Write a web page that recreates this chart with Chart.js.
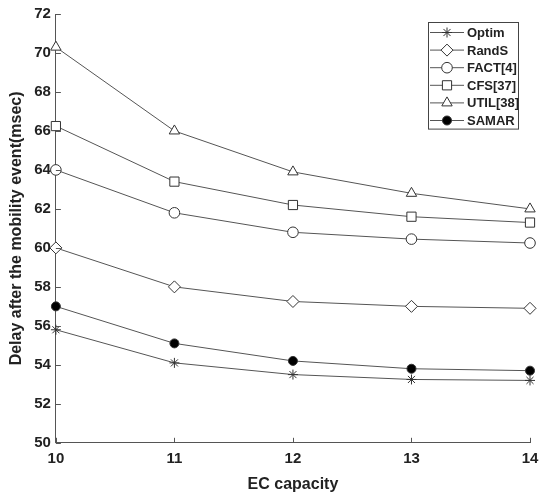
<!DOCTYPE html>
<html lang="en">
<head>
    <meta charset="UTF-8">
    <title>Delay vs EC capacity</title>
    <script src="https://cdn.jsdelivr.net/npm/chart.js"></script>
    <style>
        html, body { margin: 0; padding: 0; background: #fff; }
        #chart { display: block; }
    </style>
</head>
<body>
    <canvas id="chart" width="546" height="493"></canvas>

    <script>
        // data
        const capacities = [10, 11, 12, 13, 14];
        const optim = [55.8, 54.1, 53.5, 53.25, 53.2];
        const randS = [60.0, 58.0, 57.25, 57.0, 56.9];
        const fact  = [64.0, 61.8, 60.8, 60.45, 60.25];
        const cfs   = [66.25, 63.4, 62.2, 61.6, 61.3];
        const util  = [70.3, 66.0, 63.9, 62.8, 62.0];
        const samar = [57.0, 55.1, 54.2, 53.8, 53.7];
        const yTicks = [50, 52, 54, 56, 58, 60, 62, 64, 66, 68, 70, 72];

        const lineColor = '#555';
        const markColor = '#333';
        const fontFamily = '"Liberation Sans", Arial, sans-serif';

        function series(label, data, style, radius, fill) {
            return {
                label: label,
                data: data,
                borderColor: lineColor,
                borderWidth: 1,
                pointStyle: style,
                pointRadius: radius,
                pointBorderColor: markColor,
                pointBorderWidth: 1,
                pointBackgroundColor: fill,
                tension: 0,
                fill: false
            };
        }

        // ticks drawn inward like the original plot
        const innerTicks = {
            id: 'innerTicks',
            afterDatasetsDraw(chart) {
                const ctx = chart.ctx;
                const a = chart.chartArea;
                const x = chart.scales.x, y = chart.scales.y;
                ctx.save();
                ctx.strokeStyle = '#555';
                ctx.lineWidth = 1;
                ctx.beginPath();
                capacities.forEach((c, i) => {
                    const px = Math.round(x.getPixelForValue(i)) + 0.5;
                    ctx.moveTo(px, a.bottom);
                    ctx.lineTo(px, a.bottom - 5);
                });
                yTicks.forEach(v => {
                    const py = Math.round(y.getPixelForValue(v)) + 0.5;
                    ctx.moveTo(a.left, py);
                    ctx.lineTo(a.left + 5, py);
                });
                ctx.stroke();
                ctx.restore();
            }
        };

        // boxed legend in the top right corner
        const boxLegend = {
            id: 'boxLegend',
            afterDraw(chart) {
                const ctx = chart.ctx;
                const a = chart.chartArea;
                const w = 90, rowH = 17.6;
                const n = chart.data.datasets.length;
                const h = rowH * n + 1;
                const left = a.right - 12 - w;
                const top = a.top + 8;
                ctx.save();
                ctx.fillStyle = '#fff';
                ctx.fillRect(left, top, w, h);
                ctx.strokeStyle = '#444';
                ctx.lineWidth = 1;
                ctx.strokeRect(Math.round(left) + 0.5, Math.round(top) + 0.5, w, h);
                ctx.font = 'bold 13px ' + fontFamily;
                ctx.textBaseline = 'middle';
                chart.data.datasets.forEach((ds, i) => {
                    const cy = top + 10.5 + i * rowH;
                    ctx.strokeStyle = lineColor;
                    ctx.beginPath();
                    ctx.moveTo(left + 2, cy);
                    ctx.lineTo(left + 36, cy);
                    ctx.stroke();
                    ctx.strokeStyle = markColor;
                    ctx.fillStyle = ds.pointBackgroundColor;
                    ctx.lineWidth = 1;
                    Chart.helpers.drawPoint(ctx, {
                        pointStyle: ds.pointStyle,
                        radius: ds.pointRadius,
                        rotation: 0,
                        borderWidth: 1
                    }, left + 19, cy);
                    ctx.fillStyle = '#222';
                    ctx.fillText(ds.label, left + 39, cy + 1);
                });
                ctx.restore();
            }
        };

        const tickFont = { family: fontFamily, size: 15, weight: 'bold' };

        new Chart(document.getElementById('chart'), {
            type: 'line',
            data: {
                labels: capacities,
                datasets: [
                    series('Optim', optim, 'star', 5, '#333'),
                    series('RandS', randS, 'rectRot', 6, '#fff'),
                    series('FACT[4]', fact, 'circle', 5.3, '#fff'),
                    series('CFS[37]', cfs, 'rect', 6.5, '#fff'),
                    series('UTIL[38]', util, 'triangle', 6, '#fff'),
                    series('SAMAR', samar, 'circle', 4.5, '#000')
                ]
            },
            options: {
                responsive: false,
                animation: false,
                layout: { padding: { top: 3, right: 16, bottom: -1, left: 7 } },
                plugins: {
                    legend: { display: false },
                    tooltip: { enabled: false }
                },
                scales: {
                    x: {
                        type: 'category',
                        offset: false,
                        grid: { display: false, drawTicks: false, tickLength: 0 },
                        border: { display: true, color: '#555', width: 1 },
                        ticks: { color: '#222', font: tickFont, padding: 7, maxRotation: 0 },
                        title: {
                            display: true,
                            text: 'EC capacity',
                            color: '#222',
                            font: { family: fontFamily, size: 16, weight: 'bold' },
                            padding: { top: 0, bottom: 0 }
                        }
                    },
                    y: {
                        min: 50,
                        max: 72,
                        afterBuildTicks(scale) {
                            scale.ticks = yTicks.map(v => ({ value: v }));
                        },
                        grid: { display: false, drawTicks: false, tickLength: 0 },
                        border: { display: true, color: '#555', width: 1 },
                        ticks: { color: '#222', font: tickFont, padding: 5 },
                        title: {
                            display: true,
                            text: 'Delay after the mobility event(msec)',
                            color: '#222',
                            font: { family: fontFamily, size: 16, weight: 'bold' },
                            padding: { top: 0, bottom: 3 }
                        }
                    }
                }
            },
            plugins: [innerTicks, boxLegend]
        });
    </script>
</body>
</html>
